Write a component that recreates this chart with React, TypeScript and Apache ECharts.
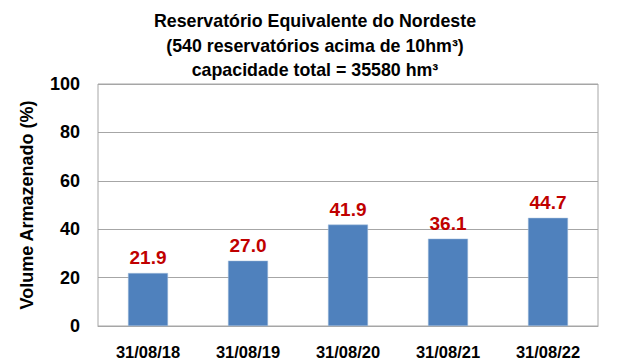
import React, { useEffect, useRef } from "react";
import * as echarts from "echarts";

const categories = ["31/08/18", "31/08/19", "31/08/20", "31/08/21", "31/08/22"];
const values = [21.9, 27.0, 41.9, 36.1, 44.7];
const titleLines = [
  "Reservatório Equivalente do Nordeste",
  "(540 reservatórios acima de 10hm³)",
  "capacidade total = 35580 hm³",
];
const yAxisName = "Volume Armazenado (%)";

export default function App() {
  const ref = useRef<HTMLDivElement>(null);
  useEffect(() => {
    if (!ref.current) return;
    const chart = echarts.init(ref.current, null, { renderer: "svg" });
    const font = "'Liberation Sans', Arial, sans-serif";
    chart.setOption({
      animation: false,
      backgroundColor: "#ffffff",
      graphic: titleLines.map((t, i) => ({
        type: "text",
        x: 315,
        y: 21 + i * 24.5,
        style: {
          text: t,
          x: 0,
          y: 0,
          align: "center",
          verticalAlign: "middle",
          fontFamily: font,
          fontWeight: "bold",
          fontSize: 17.8,
          fill: "#000000",
        },
      })),
      grid: {
        left: 98,
        right: 31,
        top: 84,
        bottom: 33,
        show: true,
        borderColor: "#A6A6A6",
        borderWidth: 1,
      },
      xAxis: {
        type: "category",
        data: categories,
        axisLine: { show: true, lineStyle: { color: "#A6A6A6" } },
        axisTick: { show: false },
        axisLabel: {
          fontFamily: font,
          fontWeight: "bold",
          fontSize: 16.5,
          color: "#000000",
          margin: 17,
        },
      },
      yAxis: {
        type: "value",
        min: 0,
        max: 100,
        interval: 20,
        name: yAxisName,
        nameLocation: "middle",
        nameGap: 62,
        nameRotate: 90,
        nameTextStyle: {
          fontFamily: font,
          fontWeight: "bold",
          fontSize: 18,
          color: "#000000",
        },
        axisLine: { show: false },
        axisTick: { show: false },
        splitLine: { show: true, lineStyle: { color: "#A6A6A6", width: 1 } },
        axisLabel: {
          fontFamily: font,
          fontWeight: "bold",
          fontSize: 18,
          color: "#000000",
          margin: 18,
        },
      },
      series: [
        {
          type: "bar",
          data: values,
          barWidth: 40,
          itemStyle: { color: "#4F81BD", borderColor: "#A7C0DE", borderWidth: 0.5 },
          label: {
            show: true,
            position: "top",
            distance: 6,
            formatter: (p: any) => Number(p.value).toFixed(1),
            fontFamily: font,
            fontWeight: "bold",
            fontSize: 19,
            color: "#C00000",
          },
        },
      ],
    });
    return () => chart.dispose();
  }, []);
  return (
    <div
      ref={ref}
      style={{ position: "fixed", left: 0, top: 0, width: 629, height: 360 }}
    />
  );
}
